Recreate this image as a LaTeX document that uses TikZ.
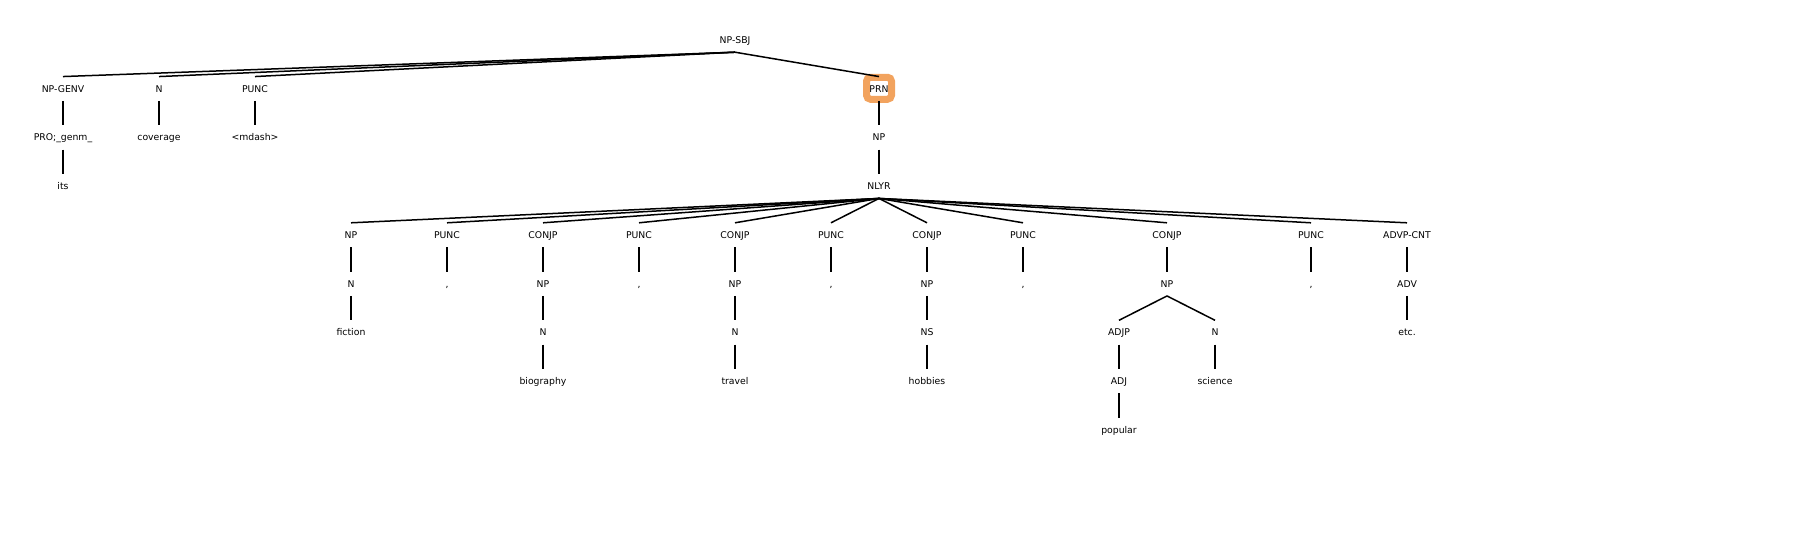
\documentclass[tikz,border=0pt]{standalone}
\usepackage{fontspec}
\setmainfont{DejaVu Sans}
\usepackage{xcolor}
\usepackage{tikz}
\definecolor{hilite}{rgb}{0.95,0.64,0.37}

\begin{document}
\begin{tikzpicture}[x=1pt,y=1pt]
    \tikzstyle{tag}=[inner sep=0pt,minimum height=24pt,text height=6.7pt,text depth=0pt,font=\fontsize{9.3}{11}\selectfont]
    \tikzstyle{hlbox}=[draw=hilite,fill=white,line width=7pt,rounded corners=4pt,minimum width=25pt,minimum height=22pt,inner sep=0pt]
    \tikzstyle{branch} = [draw=black, line width=1.5pt]

    \def\dx{48pt}
    \def\dy{-48.75pt}
    \def\ox{63pt}
    \def\by{-40pt}

    \useasboundingbox (0,0) rectangle (1800,-549);

    % highlight behind PRN
    \node[hlbox] (hl) at (\ox+17*\dx,\by+1*\dy+0.5pt) {};

    \node[tag]  (sbj) at (\ox+14*\dx,\by+0*\dy) {NP-SBJ};

    \node[tag]  (genv) at (\ox+0*\dx,\by+1*\dy) {NP-GENV};
    \node[tag]  (n0)   at (\ox+2*\dx,\by+1*\dy) {N};
    \node[tag]  (p0)   at (\ox+4*\dx,\by+1*\dy) {PUNC};
    \node[tag]  (prn)  at (\ox+17*\dx,\by+1*\dy) {PRN};

    \node[tag]  (pro)  at (\ox+0*\dx,\by+2*\dy) {PRO;\_genm\_};
    \node[tag]  (cov)  at (\ox+2*\dx,\by+2*\dy) {coverage};
    \node[tag]  (mdash) at (\ox+4*\dx,\by+2*\dy) {<mdash>};
    \node[tag]  (np)   at (\ox+17*\dx,\by+2*\dy) {NP};

    \node[tag]  (its)  at (\ox+0*\dx,\by+3*\dy) {its};
    \node[tag]  (nlyr) at (\ox+17*\dx,\by+3*\dy) {NLYR};

    \node[tag]  (c1)  at (\ox+6*\dx,\by+4*\dy) {NP};
    \node[tag]  (c2)  at (\ox+8*\dx,\by+4*\dy) {PUNC};
    \node[tag]  (c3)  at (\ox+10*\dx,\by+4*\dy) {CONJP};
    \node[tag]  (c4)  at (\ox+12*\dx,\by+4*\dy) {PUNC};
    \node[tag]  (c5)  at (\ox+14*\dx,\by+4*\dy) {CONJP};
    \node[tag]  (c6)  at (\ox+16*\dx,\by+4*\dy) {PUNC};
    \node[tag]  (c7)  at (\ox+18*\dx,\by+4*\dy) {CONJP};
    \node[tag]  (c8)  at (\ox+20*\dx,\by+4*\dy) {PUNC};
    \node[tag]  (c9)  at (\ox+23*\dx,\by+4*\dy) {CONJP};
    \node[tag]  (c10) at (\ox+26*\dx,\by+4*\dy) {PUNC};
    \node[tag]  (c11) at (\ox+28*\dx,\by+4*\dy) {ADVP-CNT};

    \node[tag]  (d1)  at (\ox+6*\dx,\by+5*\dy) {N};
    \node[tag]  (d2)  at (\ox+8*\dx,\by+5*\dy) {,};
    \node[tag]  (d3)  at (\ox+10*\dx,\by+5*\dy) {NP};
    \node[tag]  (d4)  at (\ox+12*\dx,\by+5*\dy) {,};
    \node[tag]  (d5)  at (\ox+14*\dx,\by+5*\dy) {NP};
    \node[tag]  (d6)  at (\ox+16*\dx,\by+5*\dy) {,};
    \node[tag]  (d7)  at (\ox+18*\dx,\by+5*\dy) {NP};
    \node[tag]  (d8)  at (\ox+20*\dx,\by+5*\dy) {,};
    \node[tag]  (d9)  at (\ox+23*\dx,\by+5*\dy) {NP};
    \node[tag]  (d10) at (\ox+26*\dx,\by+5*\dy) {,};
    \node[tag]  (d11) at (\ox+28*\dx,\by+5*\dy) {ADV};

    \node[tag]  (e1)  at (\ox+6*\dx,\by+6*\dy) {fiction};
    \node[tag]  (e3)  at (\ox+10*\dx,\by+6*\dy) {N};
    \node[tag]  (e5)  at (\ox+14*\dx,\by+6*\dy) {N};
    \node[tag]  (e7)  at (\ox+18*\dx,\by+6*\dy) {NS};
    \node[tag]  (e9a) at (\ox+22*\dx,\by+6*\dy) {ADJP};
    \node[tag]  (e9b) at (\ox+24*\dx,\by+6*\dy) {N};
    \node[tag]  (e11) at (\ox+28*\dx,\by+6*\dy) {etc.};

    \node[tag]  (f3)  at (\ox+10*\dx,\by+7*\dy) {biography};
    \node[tag]  (f5)  at (\ox+14*\dx,\by+7*\dy) {travel};
    \node[tag]  (f7)  at (\ox+18*\dx,\by+7*\dy) {hobbies};
    \node[tag]  (f9a) at (\ox+22*\dx,\by+7*\dy) {ADJ};
    \node[tag]  (f9b) at (\ox+24*\dx,\by+7*\dy) {science};

    \node[tag]  (g9a) at (\ox+22*\dx,\by+8*\dy) {popular};

   \draw [branch] (sbj.south) -- (genv.north);
   \draw [branch] (sbj.south) -- (n0.north);
   \draw [branch] (sbj.south) -- (p0.north);
   \draw [branch] (sbj.south) -- (prn.north);

   \draw [branch] (genv) -- (pro);
   \draw [branch] (pro) -- (its);
   \draw [branch] (n0) -- (cov);
   \draw [branch] (p0) -- (mdash);
   \draw [branch] (prn) -- (np);
   \draw [branch] (np) -- (nlyr);

   \draw [branch] (nlyr.south) -- (c1.north);
   \draw [branch] (nlyr.south) -- (c2.north);
   \draw [branch] (nlyr.south) -- (c3.north);
   \draw [branch] (nlyr.south) -- (c4.north);
   \draw [branch] (nlyr.south) -- (c5.north);
   \draw [branch] (nlyr.south) -- (c6.north);
   \draw [branch] (nlyr.south) -- (c7.north);
   \draw [branch] (nlyr.south) -- (c8.north);
   \draw [branch] (nlyr.south) -- (c9.north);
   \draw [branch] (nlyr.south) -- (c10.north);
   \draw [branch] (nlyr.south) -- (c11.north);

   \draw [branch] (c1) -- (d1);
   \draw [branch] (c2) -- (d2);
   \draw [branch] (c3) -- (d3);
   \draw [branch] (c4) -- (d4);
   \draw [branch] (c5) -- (d5);
   \draw [branch] (c6) -- (d6);
   \draw [branch] (c7) -- (d7);
   \draw [branch] (c8) -- (d8);
   \draw [branch] (c9) -- (d9);
   \draw [branch] (c10) -- (d10);
   \draw [branch] (c11) -- (d11);

   \draw [branch] (d1) -- (e1);
   \draw [branch] (d3) -- (e3);
   \draw [branch] (d5) -- (e5);
   \draw [branch] (d7) -- (e7);
   \draw [branch] (d9.south) -- (e9a.north);
   \draw [branch] (d9.south) -- (e9b.north);
   \draw [branch] (d11) -- (e11);

   \draw [branch] (e3) -- (f3);
   \draw [branch] (e5) -- (f5);
   \draw [branch] (e7) -- (f7);
   \draw [branch] (e9a) -- (f9a);
   \draw [branch] (e9b) -- (f9b);

   \draw [branch] (f9a) -- (g9a);

\end{tikzpicture}
\end{document}
